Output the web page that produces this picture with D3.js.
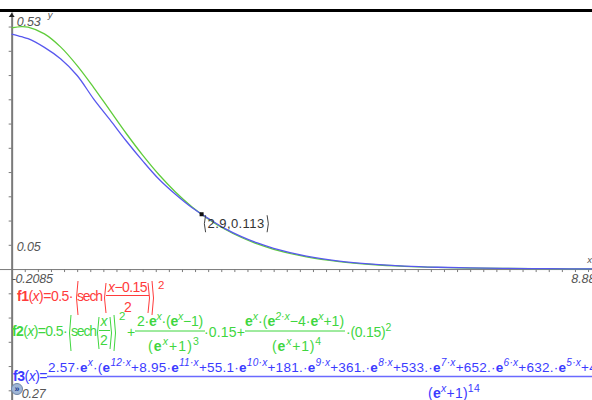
<!DOCTYPE html>
<html><head><meta charset="utf-8">
<script src="https://cdn.jsdelivr.net/npm/d3@7"></script>
<style>
body{margin:0;background:#fff;}
svg{display:block;font-family:"Liberation Sans",Arial,sans-serif;}
</style></head><body>
<svg id="graph" width="592" height="400"></svg>
<script>
// Window settings as shown on the screen
var xMin = -0.2085, xMax = 8.88;
var yMin = -0.27, yMax = 0.53;
var xStep = 0.2, yStep = 0.05;

// Points
var xs     = [0, 0.15, 0.25, 0.5, 0.75, 1, 1.25, 1.5, 1.75, 2, 2.25, 2.5, 2.75, 3, 3.25, 3.5, 3.75, 4, 4.5, 5, 5.5, 6, 6.5, 7, 7.5, 8, 8.5, 8.88];
var f2Vals = [0.4972, 0.5, 0.4988, 0.485, 0.4576, 0.4195, 0.3747, 0.327, 0.2795, 0.2349, 0.1944, 0.159, 0.1287, 0.1035, 0.0825, 0.0655, 0.0518, 0.0408, 0.0252, 0.0154, 0.0094, 0.0057, 0.0035, 0.0021, 0.0013, 0.0008, 0.0005, 0.0003];
var f3Vals = [0.4845, 0.479, 0.475, 0.457, 0.433, 0.399, 0.351, 0.308, 0.264, 0.223, 0.185, 0.154, 0.1267, 0.1045, 0.084, 0.0675, 0.0538, 0.0428, 0.0267, 0.0164, 0.0101, 0.0061, 0.0037, 0.0023, 0.0014, 0.0008, 0.0005, 0.0003];

// Traced point
var tracePoint = [2.9, 0.113];
var traceLabel = "2.9,0.113";

// End labels of the window
var xMinLabel = "-0.2085", xMaxLabel = "8.88";
var yMaxLabel = "0.53", yMinLabel = "0.27", yTickLabel = "0.05";

var red = "#ff3b3b", green = "#3fd63f", blue = "#3b3bff";
var greenCurve = "#5fcc3a", blueCurve = "#5858ee";
var axisGrey = "#7a7a7a", labelGrey = "#555";

var svg = d3.select("svg#graph");

var x = d3.scaleLinear().domain([xMin, xMax]).range([-2, 593.3]);
var y = d3.scaleLinear().domain([yMin, yMax]).range([400, 12]);

// black band on top of the graph page
svg.append("rect").attr("x", 0).attr("y", 9).attr("width", 592).attr("height", 3).attr("fill", "#000");

// axes
var xTicks = d3.range(1, Math.floor(xMax / xStep) + 1).map(i => +(i * xStep).toFixed(2));
var yTicks = d3.range(Math.ceil(yMin / yStep), Math.floor(yMax / yStep) + 1)
  .filter(i => i != 0).map(i => +(i * yStep).toFixed(2));

var xAxis = svg.append("g")
  .attr("transform", "translate(0," + y(0) + ")")
  .call(d3.axisBottom(x).tickValues(xTicks).tickFormat("").tickSizeInner(3).tickSizeOuter(0));
xAxis.select(".domain").attr("stroke", axisGrey);
xAxis.selectAll(".tick line").attr("stroke", axisGrey);

var yAxis = svg.append("g")
  .attr("transform", "translate(" + x(0) + ",0)")
  .call(d3.axisLeft(y).tickValues(yTicks).tickFormat("").tickSizeInner(3).tickSizeOuter(0));
yAxis.select(".domain").attr("stroke", axisGrey).attr("stroke-width", 2);
yAxis.selectAll(".tick line").attr("stroke", axisGrey);

// little arrow at top of the y axis
svg.append("path")
  .attr("d", "M" + (x(0) - 3) + "," + (y(yMax) + 5) + "L" + x(0) + "," + (y(yMax) + 1) + "L" + (x(0) + 3) + "," + (y(yMax) + 5) + "Z")
  .attr("fill", "#222");

// math text helper: parts are [string, kind], kind may hold b (bold), i (italic), s (superscript)
// when a width is given the letter spacing is set so the text fills it
function mtext(px, py, parts, color, size, anchor, width) {
  var t = svg.append("text").attr("x", px).attr("y", py)
    .attr("fill", color).attr("font-size", size);
  if (anchor) t.attr("text-anchor", anchor);
  var shift = 0, n = 0;
  parts.forEach(function(p) {
    var k = p[1] || "";
    var target = k.indexOf("s") >= 0 ? -Math.round(size * 0.45) : 0;
    var ts = t.append("tspan").text(p[0]).attr("dy", target - shift);
    shift = target;
    n += p[0].length;
    if (target) ts.attr("font-size", size * 0.75);
    if (k.indexOf("b") >= 0) ts.attr("font-weight", "bold");
    if (k.indexOf("i") >= 0) ts.attr("font-style", "italic");
  });
  if (width) {
    var w = t.node().getComputedTextLength();
    t.attr("letter-spacing", (width - w) / n);
  }
  return t;
}
function bar(x1, x2, py, color, w) {
  svg.append("line").attr("x1", x1).attr("x2", x2).attr("y1", py).attr("y2", py)
    .attr("stroke", color).attr("stroke-width", w || 1);
}
function paren(px, top, bot, open, color, w) {
  w = w || 3;
  var a = open ? px + w : px - w;
  return svg.append("path")
    .attr("d", "M" + a + "," + top + "Q" + px + "," + ((top + bot) / 2) + " " + a + "," + bot)
    .attr("fill", "none").attr("stroke", color).attr("stroke-width", 1);
}

// window labels
function axisLabel(px, py, txt, anchor, size, width) {
  return mtext(px, py, [[txt, "i"]], labelGrey, size || 12, anchor, width);
}
axisLabel(x(0) + 5, y(yMax) + 14, yMaxLabel, "start", 12.5, 24);
axisLabel(x(0) + 36, y(yMax) + 6, "y", "start", 9.5);
axisLabel(x(0) + 5, y(yStep) + 6, yTickLabel, "start", 12.5, 24);
axisLabel(x(0), y(0) + 14, xMinLabel, "start", 12.5, 41);
axisLabel(x(xMax) + 2, y(0) + 14, xMaxLabel, "end", 12.5, 24);
axisLabel(x(xMax) - 6, y(0) - 6, "x", "start", 9.5);

// curves
var line = d3.line().curve(d3.curveCatmullRom)
  .x(d => x(d[0])).y(d => y(d[1]));

svg.append("path").datum(d3.zip(xs, f2Vals))
  .attr("d", line).attr("fill", "none")
  .attr("stroke", greenCurve).attr("stroke-width", 1.3);
svg.append("path").datum(d3.zip(xs, f3Vals))
  .attr("d", line).attr("fill", "none")
  .attr("stroke", blueCurve).attr("stroke-width", 1.3);

// traced point and its label
svg.append("rect")
  .attr("x", x(tracePoint[0]) - 2).attr("y", y(tracePoint[1]) - 2)
  .attr("width", 4).attr("height", 4).attr("fill", "#111");

var lx = x(tracePoint[0]), ly = y(tracePoint[1]);
paren(lx + 1.5, ly + 1, ly + 18, true, "#444", 2.5);
mtext(lx + 6, ly + 14, [[traceLabel]], "#333", 13, "start", 57);
paren(lx + 68, ly + 1, ly + 18, false, "#444", 2.5);

// f1 entry line
mtext(17, 301, [["f1", "b"], ["("], ["x", "i"], [")=0.5·"]], red, 14, "start", 56);
paren(75, 281, 315, true, red);
mtext(77, 301, [["sech"]], red, 14, "start", 25);
paren(103, 283, 313, true, red);
mtext(108, 292, [["x", "i"], ["−0.15"]], red, 14, "start", 39);
bar(106, 149, 295.5, red);
mtext(128, 312, [["2"]], red, 14, "middle");
paren(151, 283, 313, false, red);
paren(155, 281, 315, false, red);
mtext(158, 289, [["2"]], red, 11.5);

// f2 entry line
mtext(12, 336, [["f2", "b"], ["("], ["x", "i"], [")=0.5·"]], green, 14, "start", 55);
paren(68, 315, 351, true, green);
mtext(71, 336, [["sech"]], green, 14, "start", 25);
paren(96, 317, 349, true, green);
mtext(104, 326, [["x", "i"]], green, 14, "middle");
bar(99, 110, 330.5, green);
mtext(104, 345, [["2"]], green, 14, "middle");
paren(113, 317, 349, false, green);
paren(117, 315, 351, false, green);
mtext(119, 320, [["2"]], green, 11.5);
mtext(127, 337, [["+"]], green, 14);
mtext(137, 326, [["2·"], ["e", "b"], ["x", "is"], ["·("], ["e", "b"], ["x", "is"], ["−1)"]], green, 14, "start", 66);
bar(135, 205, 331, green);
mtext(148, 351, [["("], ["e", "b"], ["x", "is"], ["+1)"], ["3", "s"]], green, 14, "start", 52);
mtext(204, 337, [["·0.15+"]], green, 14, "start", 41);
mtext(245, 326, [["e", "b"], ["x", "is"], ["·("], ["e", "b"], ["2·x", "is"], ["−4·"], ["e", "b"], ["x", "is"], ["+1)"]], green, 14, "start", 99);
bar(245, 345, 331, green);
mtext(272, 351, [["("], ["e", "b"], ["x", "is"], ["+1)"], ["4", "s"]], green, 14, "start", 50);
mtext(346, 337, [["·(0.15)"], ["2", "s"]], green, 14, "start", 45);

// f3 entry line
mtext(13, 381, [["f3", "b"], ["("], ["x", "i"], [")="]], blue, 14, "start", 34);
mtext(48, 372, [["2.57·"], ["e", "b"], ["x", "is"], ["·("], ["e", "b"], ["12·x", "is"],
  ["+8.95·"], ["e", "b"], ["11·x", "is"], ["+55.1·"], ["e", "b"], ["10·x", "is"],
  ["+181.·"], ["e", "b"], ["9·x", "is"], ["+361.·"], ["e", "b"], ["8·x", "is"],
  ["+533.·"], ["e", "b"], ["7·x", "is"], ["+652.·"], ["e", "b"], ["6·x", "is"],
  ["+632.·"], ["e", "b"], ["5·x", "is"], ["+4"]], blue, 13.5, "start", 549);
bar(47, 592, 376.5, "#6a6aff", 1.6);
mtext(428, 398, [["("], ["e", "b"], ["x", "is"], ["+1)"], ["14", "s"]], blue, 14, "start", 52);

// bottom window label and the small expand button
axisLabel(x(0) + 10, 398, yMinLabel, "start", 12.5, 24);
svg.append("circle").attr("cx", 17).attr("cy", 389).attr("r", 5.5)
  .attr("fill", "#9fb6d6").attr("stroke", "#6f86a8");
svg.append("text").attr("x", 17).attr("y", 392).attr("text-anchor", "middle")
  .attr("font-size", 9).attr("font-weight", "bold").attr("fill", "#1d3c8f").text("»");
</script>
</body></html>
